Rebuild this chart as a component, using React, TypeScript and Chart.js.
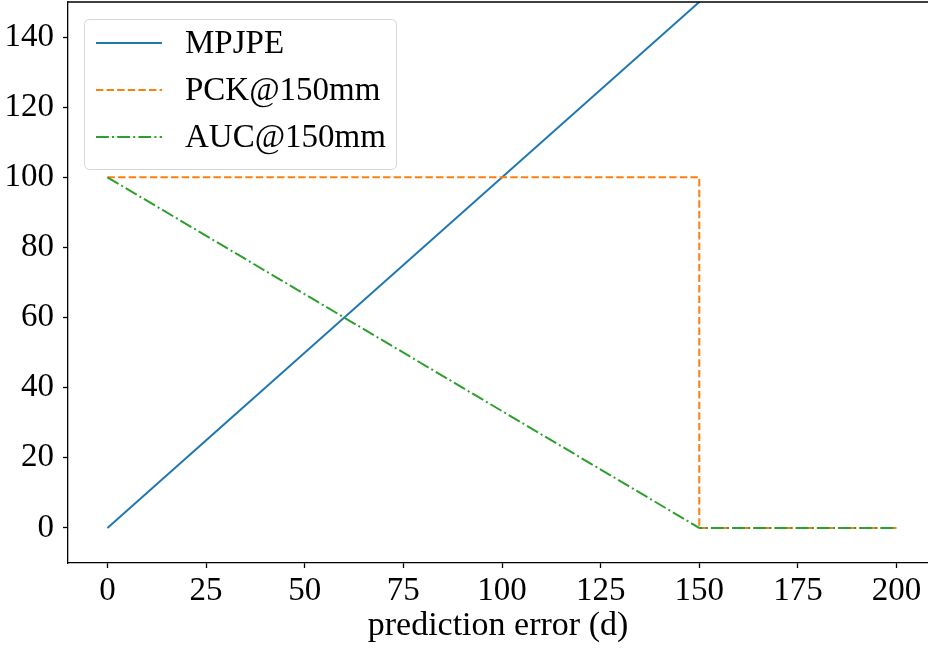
import React, { useEffect, useRef } from "react";
import { Chart, registerables } from "chart.js";

Chart.register(...registerables);

// Data
const mpjpeX = [0, 200];
const mpjpeY = [0, 200];
const pckX = [0, 150, 150, 200];
const pckY = [100, 100, 0, 0];
const aucX = [0, 150, 200];
const aucY = [100, 0, 0];
const xTicks = [0, 25, 50, 75, 100, 125, 150, 175, 200];
const yTicks = [0, 20, 40, 60, 80, 100, 120, 140];
const seriesLabels = ["MPJPE", "PCK@150mm", "AUC@150mm"];
const xTitle = "prediction error (d)";

const FONT = "'Liberation Serif', 'Times New Roman', serif";

const toPoints = (xs: number[], ys: number[]) => xs.map((x, i) => ({ x, y: ys[i] }));

const framePlugin = {
  id: "frame",
  afterDraw(chart: any) {
    const { ctx, chartArea } = chart;
    ctx.save();
    ctx.fillStyle = "#fff";
    ctx.fillRect(chartArea.right - 4, chartArea.top + 2, 4, chartArea.bottom - chartArea.top - 4);
    ctx.strokeStyle = "#000";
    ctx.lineWidth = 1.3;
    ctx.beginPath();
    ctx.moveTo(chartArea.left, chartArea.top);
    ctx.lineTo(chartArea.right, chartArea.top);
    ctx.stroke();
    ctx.restore();
  },
};

const legendPlugin = {
  id: "customLegend",
  afterDraw(chart: any) {
    const { ctx } = chart;
    const x0 = 84.5, y0 = 19.5, w = 312, h = 150;
    ctx.save();
    ctx.beginPath();
    ctx.roundRect(x0, y0, w, h, 5);
    ctx.fillStyle = "rgba(255,255,255,0.8)";
    ctx.fill();
    ctx.strokeStyle = "rgba(204,204,204,0.8)";
    ctx.lineWidth = 1;
    ctx.stroke();
    const rows = [43, 90, 137];
    chart.data.datasets.forEach((ds: any, i: number) => {
      const y = rows[i];
      ctx.beginPath();
      ctx.setLineDash(ds.borderDash || []);
      ctx.strokeStyle = ds.borderColor;
      ctx.lineWidth = ds.borderWidth;
      ctx.moveTo(96, y);
      ctx.lineTo(162, y);
      ctx.stroke();
      ctx.setLineDash([]);
      ctx.fillStyle = "#000";
      ctx.font = `33px ${FONT}`;
      ctx.textBaseline = "middle";
      ctx.textAlign = "left";
      ctx.fillText(ds.label, 185, y + 1);
    });
    ctx.restore();
  },
};

export default function App() {
  const ref = useRef<HTMLCanvasElement>(null);
  useEffect(() => {
    document.body.style.overflow = "hidden";
    const chart = new Chart(ref.current as HTMLCanvasElement, {
      type: "line",
      data: {
        datasets: [
          {
            label: seriesLabels[0],
            data: toPoints(mpjpeX, mpjpeY),
            borderColor: "#1f77b4",
            borderWidth: 2,
            pointRadius: 0,
            order: 3,
          },
          {
            label: seriesLabels[1],
            data: toPoints(pckX, pckY),
            borderColor: "#ff7f0e",
            borderWidth: 2,
            borderDash: [7.4, 3.2],
            pointRadius: 0,
            order: 2,
          },
          {
            label: seriesLabels[2],
            data: toPoints(aucX, aucY),
            borderColor: "#2ca02c",
            borderWidth: 2,
            borderDash: [12.8, 3.2, 2, 3.2],
            pointRadius: 0,
            order: 1,
          },
        ],
      },
      options: {
        animation: false,
        responsive: false,
        devicePixelRatio: 1,
        layout: { padding: { top: 2, right: 0, left: 0, bottom: 0 } },
        plugins: { legend: { display: false }, tooltip: { enabled: false } },
        elements: { line: { tension: 0 } },
        scales: {
          x: {
            type: "linear",
            min: -10,
            max: 207.97,
            afterFit: (s: any) => { s.height = 87; s.paddingLeft = 0; s.paddingRight = 0; },
            afterBuildTicks: (s: any) => { s.ticks = xTicks.map((v) => ({ value: v })); },
            grid: { drawOnChartArea: false, tickLength: 5, color: "#000", tickWidth: 1.3 },
            border: { color: "#000", width: 1.3 },
            ticks: { color: "#000", padding: 4, maxRotation: 0, autoSkip: false, font: { family: FONT, size: 33 } },
            title: { display: true, text: xTitle, color: "#000", padding: { top: 0, bottom: 4 }, font: { family: FONT, size: 34 } },
          },
          y: {
            type: "linear",
            min: -10,
            max: 150,
            afterFit: (s: any) => { s.width = 68; s.paddingTop = 0; s.paddingBottom = 0; },
            afterBuildTicks: (s: any) => { s.ticks = yTicks.map((v) => ({ value: v })); },
            grid: { drawOnChartArea: false, tickLength: 5, color: "#000", tickWidth: 1.3 },
            border: { color: "#000", width: 1.3 },
            ticks: { color: "#000", padding: 9, autoSkip: false, font: { family: FONT, size: 33 } },
          },
        },
      },
      plugins: [framePlugin, legendPlugin],
    });
    return () => chart.destroy();
  }, []);
  return (
    <div style={{ position: "fixed", left: 0, top: 0, width: 928, height: 650, background: "#fff" }}>
      <canvas ref={ref} width={928} height={650} />
    </div>
  );
}
